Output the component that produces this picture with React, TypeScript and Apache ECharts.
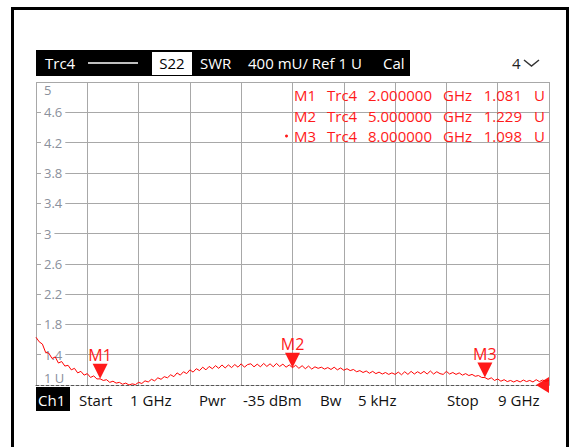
import React, { useEffect, useRef } from 'react';
import * as echarts from 'echarts';

// ---- data ----
const SWEEP_START_GHZ = 1;
const SWEEP_STEP_GHZ = 0.05;
const SWR_TRACE = [
  1.63, 1.57, 1.54, 1.43, 1.42, 1.35, 1.37, 1.29, 1.31, 1.25,
  1.26, 1.20, 1.22, 1.16, 1.18, 1.13, 1.15, 1.10, 1.12, 1.08,
  1.081, 1.06, 1.07, 1.035, 1.05, 1.025, 1.035, 1.01, 1.025, 1.0,
  1.015, 1.005, 1.035, 1.02, 1.055, 1.04, 1.075, 1.055, 1.095, 1.075,
  1.11, 1.095, 1.135, 1.11, 1.16, 1.13, 1.175, 1.15, 1.20, 1.17,
  1.215, 1.19, 1.235, 1.20, 1.245, 1.215, 1.255, 1.22, 1.265, 1.225,
  1.265, 1.23, 1.27, 1.235, 1.28, 1.235, 1.27, 1.28, 1.24, 1.275,
  1.24, 1.285, 1.245, 1.28, 1.24, 1.285, 1.245, 1.275, 1.235, 1.265,
  1.229, 1.26, 1.22, 1.255, 1.215, 1.25, 1.21, 1.24, 1.22, 1.235,
  1.21, 1.23, 1.205, 1.235, 1.20, 1.225, 1.195, 1.215, 1.19, 1.205,
  1.175, 1.19, 1.165, 1.185, 1.155, 1.18, 1.15, 1.17, 1.145, 1.165,
  1.14, 1.16, 1.14, 1.17, 1.135, 1.175, 1.14, 1.18, 1.145, 1.175,
  1.15, 1.18, 1.145, 1.185, 1.145, 1.175, 1.15, 1.14, 1.18, 1.145,
  1.165, 1.14, 1.16, 1.13, 1.15, 1.125, 1.14, 1.115, 1.125, 1.10,
  1.098, 1.075, 1.095, 1.06, 1.08, 1.05, 1.07, 1.045, 1.06, 1.04,
  1.06, 1.04, 1.065, 1.045, 1.06, 1.04, 1.07, 1.045, 1.065, 1.05,
  1.06,
];

const MARKER_NAMES = ['M1', 'M2', 'M3'];
const MARKER_FREQ_GHZ = [2, 5, 8];
const MARKER_SWR = [1.081, 1.229, 1.098];

const Y_MIN = 1;
const Y_MAX = 5;
const Y_STEP = 0.4;
const X_MIN = 1;
const X_MAX = 9;
const X_STEP = 0.8;

const HEADER_TEXTS = ['Trc4', 'S22', 'SWR', '400 mU/ Ref 1 U', 'Cal', '4'];
const FOOTER_TEXTS = ['Ch1', 'Start', '1 GHz', 'Pwr', '-35 dBm', 'Bw', '5 kHz', 'Stop', '9 GHz'];

const FONT = '"Open Sans", "Noto Sans", sans-serif';
const RED = '#ff1a1a';
const GRID = '#a8a8a8';
const LABEL_GRAY = '#8a909c';

export default function App() {
  const ref = useRef<HTMLDivElement>(null);

  useEffect(() => {
    if (!ref.current) return;
    const chart = echarts.init(ref.current, undefined, { renderer: 'svg' });

    const traceData = SWR_TRACE.map((v, i) => [SWEEP_START_GHZ + i * SWEEP_STEP_GHZ, v]);

    const txt = (text: string, x: number, y: number, fill: string, extra: any = {}) => ({
      type: 'text',
      x,
      y,
      style: {
        text,
        fill,
        font: `15px ${FONT}`,
        verticalAlign: 'middle',
        align: 'left',
        ...extra,
      },
      z: 10,
    });

    const footerX = [38, 79, 130, 199, 243, 320, 358, 447, 498];
    const markerRowsY = [95, 116, 136];

    const graphics: any[] = [
      // outer frame
      {
        type: 'rect',
        shape: { x: 12.5, y: 8.5, width: 555, height: 500 },
        style: { fill: 'none', stroke: '#000', lineWidth: 3 },
        z: 10,
      },
      // header bar
      { type: 'rect', shape: { x: 36, y: 50, width: 374, height: 26 }, style: { fill: '#000' }, z: 10 },
      txt(HEADER_TEXTS[0], 45, 63, '#fff'),
      { type: 'line', shape: { x1: 88, y1: 63, x2: 138, y2: 63 }, style: { stroke: '#fff', lineWidth: 1.5 }, z: 10 },
      { type: 'rect', shape: { x: 152, y: 52, width: 40, height: 23 }, style: { fill: '#fff' }, z: 10 },
      txt(HEADER_TEXTS[1], 172, 63, '#000', { align: 'center' }),
      txt(HEADER_TEXTS[2], 200, 63, '#fff'),
      txt(HEADER_TEXTS[3], 248, 63, '#fff'),
      txt(HEADER_TEXTS[4], 383, 63, '#fff'),
      txt(HEADER_TEXTS[5], 512, 63, '#222'),
      {
        type: 'polyline',
        shape: { points: [[524, 60], [531.5, 66], [539, 60]] },
        style: { stroke: '#333', lineWidth: 1.5, fill: 'none' },
        z: 10,
      },
      // footer
      { type: 'rect', shape: { x: 36, y: 387, width: 34, height: 24 }, style: { fill: '#000' }, z: 10 },
      ...FOOTER_TEXTS.map((t, i) => txt(t, footerX[i], 400, i === 0 ? '#fff' : '#111')),
      // marker table
      ...MARKER_NAMES.flatMap((name, i) => [
        txt(name, 294, markerRowsY[i], RED),
        txt('Trc4', 327, markerRowsY[i], RED),
        txt(MARKER_FREQ_GHZ[i].toFixed(6), 368, markerRowsY[i], RED),
        txt('GHz', 443, markerRowsY[i], RED),
        txt(MARKER_SWR[i].toFixed(3), 522, markerRowsY[i], RED, { align: 'right' }),
        txt('U', 534, markerRowsY[i], RED),
      ]),
      { type: 'circle', shape: { cx: 286.5, cy: 136, r: 1.5 }, style: { fill: RED }, z: 10 },
    ];

    const fmtY = (v: number) => {
      const r = Math.round(v * 10) / 10;
      if (Math.abs(r - Y_MIN) < 1e-6) return '{e|1 U}';
      if (Math.abs(r - Y_MAX) < 1e-6) return '{e|5}';
      return '{n|' + String(r) + '}';
    };

    chart.setOption({
      animation: false,
      backgroundColor: '#fff',
      grid: { left: 36, right: 20, top: 82, bottom: 62, containLabel: false },
      xAxis: {
        type: 'value',
        min: X_MIN,
        max: X_MAX,
        interval: X_STEP,
        axisLabel: { show: false },
        axisTick: { show: false },
        axisLine: { show: true, onZero: false, lineStyle: { color: '#555', type: [3, 2], width: 1 } },
        splitLine: { show: true, lineStyle: { color: GRID, width: 1 } },
      },
      yAxis: {
        type: 'value',
        min: Y_MIN,
        max: Y_MAX,
        interval: Y_STEP,
        axisLine: { show: false },
        axisTick: { show: false },
        axisLabel: {
          inside: true,
          margin: 5,
          formatter: fmtY,
          verticalAlignMinLabel: 'bottom',
          verticalAlignMaxLabel: 'top',
          rich: {
            n: { backgroundColor: '#fff', padding: [1, 3], color: LABEL_GRAY, fontSize: 13, fontFamily: FONT },
            e: { padding: [1, 3], color: LABEL_GRAY, fontSize: 13, fontFamily: FONT },
          },
        },
        splitLine: {
          show: true,
          lineStyle: { color: ['rgba(0,0,0,0)', GRID, GRID, GRID, GRID, GRID, GRID, GRID, GRID, GRID, GRID], width: 1 },
        },
      },
      series: [
        {
          type: 'line',
          data: traceData,
          showSymbol: false,
          symbol: 'none',
          lineStyle: { color: '#ff0000', width: 1 },
          z: 5,
          markPoint: {
            data: [
              ...MARKER_NAMES.map((name, i) => ({
                name,
                coord: [MARKER_FREQ_GHZ[i], MARKER_SWR[i]],
                symbol: 'path://M0,0 L10,0 L5,10 Z',
                symbolSize: [15, 15],
                symbolOffset: [0, '-50%'],
                itemStyle: { color: RED },
                label: {
                  show: true,
                  position: 'top',
                  distance: 1,
                  formatter: name,
                  color: RED,
                  fontSize: 16,
                  fontFamily: FONT,
                },
              })),
              {
                name: 'ref',
                coord: [X_MAX, Y_MIN],
                symbol: 'path://M10,0 L10,10 L0,5 Z',
                symbolSize: [13, 16],
                symbolOffset: ['-50%', 0],
                itemStyle: { color: RED },
                label: { show: false },
              },
            ],
          },
        },
      ],
      graphic: graphics,
    });

    return () => chart.dispose();
  }, []);

  return (
    <div
      ref={ref}
      style={{ position: 'absolute', left: 0, top: 0, width: 569, height: 447, background: '#fff' }}
    />
  );
}
